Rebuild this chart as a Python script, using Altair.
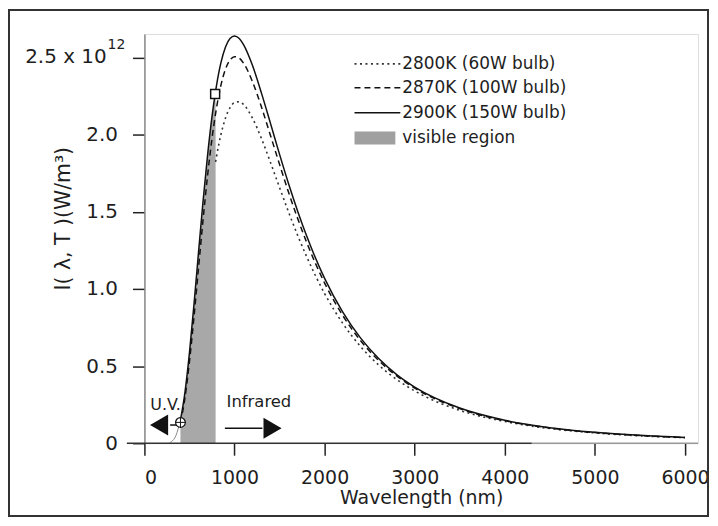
import altair as alt
import pandas as pd

# ---------------- data (intensity in units of 1e12 W/m^3) ----------------
wl_2900 = [280, 300, 350, 400, 450, 500, 550, 600, 650, 700, 750, 785, 790, 800, 850, 900, 950,
           1000, 1050, 1100, 1200, 1300, 1400, 1500, 1600, 1800, 2000, 2200, 2400, 2600, 2800,
           3000, 3500, 4000, 4500, 5000, 5500, 6000]
I_2900 = [0.004, 0.010, 0.050, 0.150, 0.330, 0.587, 0.899, 1.234, 1.563, 1.861, 2.116, 2.263,
          2.282, 2.318, 2.468, 2.568, 2.623, 2.639, 2.624, 2.583, 2.447, 2.267, 2.071, 1.872,
          1.682, 1.344, 1.068, 0.851, 0.681, 0.549, 0.445, 0.364, 0.228, 0.149, 0.101, 0.071,
          0.051, 0.037]

wl_2870 = [400, 450, 500, 550, 600, 650, 700, 750, 785, 800, 850, 900, 950, 1000, 1050, 1100,
           1200, 1300, 1400, 1500, 1600, 1800, 2000, 2200, 2400, 2600, 2800, 3000, 3500, 4000,
           4500, 5000, 5500, 6000]
I_2870 = [0.132, 0.294, 0.530, 0.818, 1.132, 1.443, 1.729, 1.974, 2.118, 2.173, 2.322, 2.424,
          2.483, 2.505, 2.496, 2.463, 2.342, 2.177, 1.993, 1.807, 1.626, 1.303, 1.038, 0.829,
          0.664, 0.536, 0.436, 0.357, 0.224, 0.146, 0.099, 0.069, 0.050, 0.037]

wl_2800 = [790, 800, 850, 900, 950, 1000, 1050, 1100, 1200, 1300, 1400, 1500, 1600, 1800, 2000,
           2200, 2400, 2600, 2800, 3000, 3500, 4000, 4500, 5000, 5500, 6000]
I_2800 = [1.823, 1.857, 2.002, 2.107, 2.174, 2.208, 2.213, 2.195, 2.106, 1.973, 1.818, 1.657,
          1.498, 1.210, 0.970, 0.778, 0.626, 0.507, 0.413, 0.339, 0.213, 0.141, 0.095, 0.067,
          0.048, 0.036]

x_ticks = [0, 1000, 2000, 3000, 4000, 5000, 6000]
y_ticks = [0, 0.5, 1.0, 1.5, 2.0, 2.5]
legend_labels = ["2800K (60W bulb)", "2870K (100W bulb)", "2900K (150W bulb)", "visible region"]
visible_range = [400, 790]
uv_start_wl = 400          # black part of 2900K curve starts here
marker_wl = [400, 785]     # circle (U.V. edge), square
marker_I = [0.135, 2.263]
uv_arrow_wl = [285, 400]
uv_arrow_I = 0.118
uv_head_wl = 163
ir_arrow_wl = [893, 1310]
ir_arrow_I = 0.097
ir_head_wl = 1422
uv_label = ("U.V.", 235, 0.245)
ir_label = ("Infrared", 912, 0.265)
x_axis_ext = [-195, 4300, 6145]

FONT = "DejaVu Sans"
TXT = "#1e1e1e"
XD = [0, 6145]
YD = [0, 2.652]
xs = alt.Scale(domain=XD, nice=False, zero=False)
ys = alt.Scale(domain=YD, nice=False, zero=False)
YTITLE = "I(  λ, T )(W/m³)"

XAX = alt.Axis(
    values=x_ticks, format="d", title="Wavelength (nm)", domain=False, grid=False,
    tickSize=12, tickWidth=1.5, tickColor="#222", labelFontSize=19, labelFont=FONT,
    labelColor=TXT, labelPadding=13, titleFont=FONT, titleFontSize=19,
    titleFontWeight="normal", titleColor=TXT, titlePadding=2)
YAX = alt.Axis(
    values=y_ticks,
    labelExpr="datum.value == 0 ? '0' : (datum.value == 2.5 ? '' : format(datum.value, '.1f'))",
    title=YTITLE, grid=False, domain=True, domainColor="#8a8a8a",
    domainWidth=1.5, tickSize=12, tickWidth=1.5, tickColor="#222", labelFontSize=20,
    labelFont=FONT, labelColor=TXT, labelPadding=15, titleFont=FONT, titleFontSize=20.5,
    titleFontWeight="normal", titleColor=TXT, titleX=-81, titleY=185,
    titleAlign="center", titleBaseline="middle")


def fx(field=None, datum=None):
    if datum is not None:
        return alt.X(datum=datum, scale=xs, axis=XAX, title="Wavelength (nm)")
    return alt.X(field, type="quantitative", scale=xs, axis=XAX, title="Wavelength (nm)")


def fy(field=None, datum=None):
    if datum is not None:
        return alt.Y(datum=datum, scale=ys, axis=YAX, title=YTITLE)
    return alt.Y(field, type="quantitative", scale=ys, axis=YAX, title=YTITLE, stack=None)


d2900 = pd.DataFrame({"wl": wl_2900, "I": I_2900})
d2870 = pd.DataFrame({"wl": wl_2870, "I": I_2870})
d2800 = pd.DataFrame({"wl": wl_2800, "I": I_2800})
d_vis = d2900[(d2900.wl >= visible_range[0]) & (d2900.wl <= visible_range[1])].reset_index(drop=True)
d_tail = d2900[d2900.wl <= uv_start_wl].reset_index(drop=True)
d_main = d2900[d2900.wl >= uv_start_wl].reset_index(drop=True)

# visible region (grey area under the 2900K curve)
vis = alt.Chart(d_vis).mark_area(color="#a8a8a8", interpolate="monotone", opacity=1).encode(
    x=fx("wl"), y=fy("I"))

uv_tail = alt.Chart(d_tail).mark_line(
    color="#888", strokeWidth=1, interpolate="monotone").encode(x=fx("wl"), y=fy("I"))
line2900 = alt.Chart(d_main).mark_line(
    color="#111", strokeWidth=1.5, interpolate="monotone").encode(x=fx("wl"), y=fy("I"))
line2870 = alt.Chart(d2870).mark_line(
    color="#111", strokeWidth=1.5, strokeDash=[6, 4], interpolate="monotone").encode(
    x=fx("wl"), y=fy("I"))
line2800 = alt.Chart(d2800).mark_line(
    color="#333", strokeWidth=1.6, strokeDash=[2, 3.5], interpolate="monotone").encode(
    x=fx("wl"), y=fy("I"))

# x axis line (dark part, grey part, with extension left of zero)
xaxis_dark = alt.Chart().mark_rule(color="#333", strokeWidth=1.5).encode(
    x=fx(datum=x_axis_ext[0]), x2=alt.X2(datum=x_axis_ext[1]), y=fy(datum=0))
xaxis_grey = alt.Chart().mark_rule(color="#999", strokeWidth=1.5).encode(
    x=fx(datum=x_axis_ext[1]), x2=alt.X2(datum=x_axis_ext[2]), y=fy(datum=0))

# 2.5 x 10^12 label
lab25 = alt.Chart().mark_text(text="2.5 x 10", align="right", baseline="middle", font=FONT,
                              fontSize=20, color=TXT).encode(x=alt.value(-38), y=fy(datum=2.5))
lab12 = alt.Chart().mark_text(text="12", align="left", baseline="middle", font=FONT,
                              fontSize=14, color=TXT, dy=-12).encode(x=alt.value(-37), y=fy(datum=2.5))

# markers
circ = alt.Chart().mark_point(shape="circle", size=95, filled=True, fill="white",
                              stroke="#111", strokeWidth=1.2, opacity=1).encode(
    x=fx(datum=marker_wl[0]), y=fy(datum=marker_I[0]))
cross = alt.Chart().mark_point(shape="M-1,0L1,0M0,-1L0,1", size=121, filled=False,
                               stroke="#111", strokeWidth=1, opacity=1).encode(
    x=fx(datum=marker_wl[0]), y=fy(datum=marker_I[0]))
sq = alt.Chart().mark_point(shape="square", size=81, filled=True, fill="white",
                            stroke="#111", strokeWidth=1.5, opacity=1).encode(
    x=fx(datum=marker_wl[1]), y=fy(datum=marker_I[1]))

# arrows
uv_line = alt.Chart().mark_rule(color="#111", strokeWidth=1.5).encode(
    x=fx(datum=uv_arrow_wl[0]), x2=alt.X2(datum=uv_arrow_wl[1]), y=fy(datum=uv_arrow_I))
uv_head = alt.Chart().mark_point(shape="triangle-left", size=440, filled=True, color="#111",
                                 opacity=1).encode(x=fx(datum=uv_head_wl), y=fy(datum=uv_arrow_I))
ir_line = alt.Chart().mark_rule(color="#111", strokeWidth=1.5).encode(
    x=fx(datum=ir_arrow_wl[0]), x2=alt.X2(datum=ir_arrow_wl[1]), y=fy(datum=ir_arrow_I))
ir_head = alt.Chart().mark_point(shape="triangle-right", size=440, filled=True, color="#111",
                                 opacity=1).encode(x=fx(datum=ir_head_wl), y=fy(datum=ir_arrow_I))
uv_txt = alt.Chart().mark_text(text=uv_label[0], align="center", baseline="middle", font=FONT,
                               fontSize=16, color=TXT).encode(
    x=fx(datum=uv_label[1]), y=fy(datum=uv_label[2]))
ir_txt = alt.Chart().mark_text(text=ir_label[0], align="left", baseline="middle", font=FONT,
                               fontSize=16.5, color=TXT).encode(
    x=fx(datum=ir_label[1]), y=fy(datum=ir_label[2]))

# legend (drawn by hand, pixel positions inside plot area)
LX0, LX1, LT = 211, 257, 259
rows_y = [30, 54, 79, 104]
leg = []
leg.append(alt.Chart().mark_rule(color="#333", strokeWidth=1.6, strokeDash=[2, 3.5]).encode(
    x=alt.value(LX0), x2=alt.value(LX1), y=alt.value(rows_y[0])))
leg.append(alt.Chart().mark_rule(color="#111", strokeWidth=1.5, strokeDash=[6, 4]).encode(
    x=alt.value(LX0), x2=alt.value(LX1), y=alt.value(rows_y[1])))
leg.append(alt.Chart().mark_rule(color="#111", strokeWidth=1.5).encode(
    x=alt.value(LX0), x2=alt.value(LX1), y=alt.value(rows_y[2])))
leg.append(alt.Chart().mark_rect(color="#a0a0a0").encode(
    x=alt.value(LX0), x2=alt.value(LX0 + 41), y=alt.value(rows_y[3] - 6), y2=alt.value(rows_y[3] + 7)))
for lbl, yy in zip(legend_labels, rows_y):
    leg.append(alt.Chart().mark_text(text=lbl, align="left", baseline="middle", font=FONT,
                                     fontSize=17, color=TXT).encode(
        x=alt.value(LT), y=alt.value(yy)))

# outer frame
frame = alt.Chart().mark_rect(fillOpacity=0, stroke="#333", strokeWidth=2).encode(
    x=alt.value(-136), x2=alt.value(566), y=alt.value(-24), y2=alt.value(484))

chart = alt.layer(
    vis, uv_tail, line2800, line2870, line2900, xaxis_dark, xaxis_grey, lab25, lab12,
    uv_line, uv_head, ir_line, ir_head, circ, cross, sq, uv_txt, ir_txt, *leg, frame
).properties(
    width=556, height=411,
    autosize=alt.AutoSizeParams(type="none"),
    padding={"left": 137, "top": 25, "right": 12, "bottom": 74},
).configure_view(stroke=None).configure(background="white")

chart.save("out.html", embed_options={"renderer": "svg", "actions": False})
